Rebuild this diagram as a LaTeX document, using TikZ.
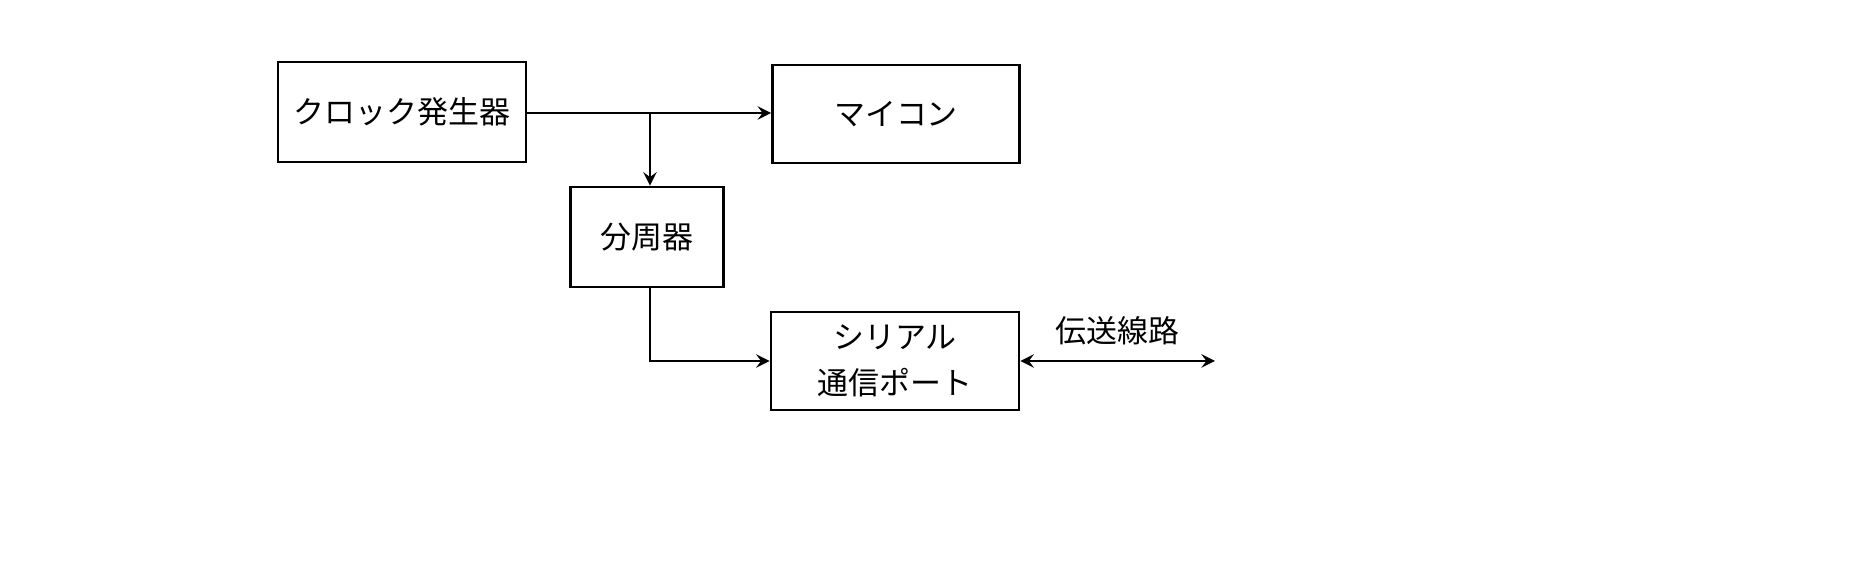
\documentclass[tikz,border=0pt]{standalone}
\usepackage{fontspec}
\setmainfont{Noto Sans CJK JP}
\usetikzlibrary{calc}
\tikzset{
  blk/.style={rectangle,draw,line width=0.7pt,align=center,font=\fontsize{8.8}{13}\selectfont},
  wire/.style={line width=0.7pt,-stealth}
}
\begin{document}
\begin{tikzpicture}[x=0.01cm,y=-0.01cm]
            \useasboundingbox (0,0) rectangle (1869,577);
            \node[blk,minimum width=2.48cm,minimum height=1cm] (clk) at (402, 112) {クロック発生器};
            \node[blk,minimum width=2.47cm,minimum height=0.98cm] (mcu) at (896, 114) {マイコン};
            \node[blk,minimum width=1.53cm,minimum height=1cm] (div) at (647, 237) {分周器};
            \node[blk,minimum width=2.48cm,minimum height=0.98cm] (sio) at (895, 361) {シリアル\\通信ポート};
            \coordinate (br) at (650, 113);
            \coordinate (line) at (1215, 361);

            \draw [wire](clk.east |- br) -- (mcu.west |- br);
            \draw [wire](br) -- (br |- div.north);
            \draw [wire](br |- div.south) |- (sio.west);
            \draw [wire,stealth-stealth](sio.east) -- node[above=1pt,font=\fontsize{8.8}{13}\selectfont] (lbl) {伝送線路} (line);
        \end{tikzpicture}
\end{document}
